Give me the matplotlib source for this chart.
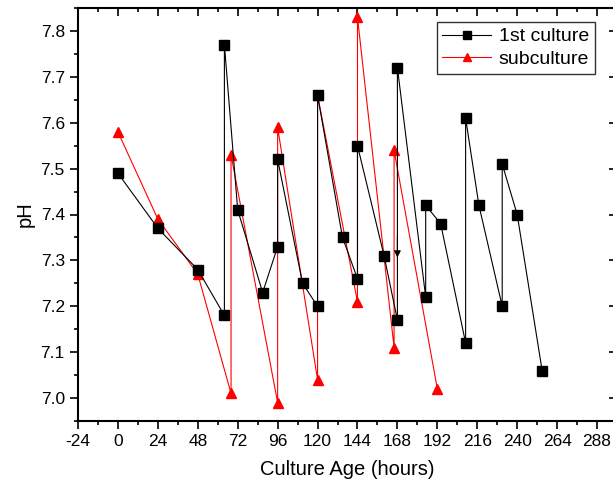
import matplotlib
matplotlib.use('agg')
import matplotlib.pyplot as plt
from matplotlib.ticker import MultipleLocator

plt.rcParams['font.family'] = ['Liberation Sans', 'DejaVu Sans']
plt.rcParams['axes.unicode_minus'] = False

# 1st culture (black squares)
first_hours = [0, 24, 48, 64, 64, 72, 87, 96, 96, 111, 120, 120, 135, 144, 144,
               160, 168, 168, 185, 185, 194, 209, 209, 217, 231, 231, 240, 255]
first_ph = [7.49, 7.37, 7.28, 7.18, 7.77, 7.41, 7.23, 7.33, 7.52, 7.25, 7.20, 7.66,
            7.35, 7.26, 7.55, 7.31, 7.17, 7.72, 7.22, 7.42, 7.38, 7.12, 7.61, 7.42,
            7.20, 7.51, 7.40, 7.06]

# subculture (red triangles)
sub_hours = [0, 24, 48, 68, 68, 96, 96, 120, 120, 144, 144, 166, 166, 192]
sub_ph = [7.58, 7.39, 7.27, 7.01, 7.53, 6.99, 7.59, 7.04, 7.66, 7.21, 7.83,
          7.11, 7.54, 7.02]

x_ticks = [-24, 0, 24, 48, 72, 96, 120, 144, 168, 192, 216, 240, 264, 288]
y_ticks = [7.0, 7.1, 7.2, 7.3, 7.4, 7.5, 7.6, 7.7, 7.8]

fig = plt.figure(figsize=(6.13, 4.88), dpi=100)
ax = fig.add_axes([78 / 613, 67 / 488, 539 / 613, 413 / 488])

ax.plot(first_hours, first_ph, color='black', lw=0.8, marker='s', ms=6.5,
        label='1st culture', zorder=3)
ax.plot(sub_hours, sub_ph, color='red', lw=0.8, marker='^', ms=7.5,
        label='subculture', zorder=2)

# small arrow head on the 168 h drop
ax.annotate('', xy=(168, 7.30), xytext=(168, 7.36),
            arrowprops=dict(arrowstyle='-|>', color='black', lw=0.8, mutation_scale=10))

ax.set_xlim(-24, 300)
ax.set_ylim(6.95, 7.85)
ax.set_xticks(x_ticks)
ax.set_yticks(y_ticks)
ax.xaxis.set_minor_locator(MultipleLocator(12))
ax.yaxis.set_minor_locator(MultipleLocator(0.05))
ax.set_yticklabels(['%.1f' % v for v in y_ticks])

ax.tick_params(axis='both', which='major', direction='out', length=6, width=1.2,
               labelsize=12.5, top=True, right=True)
ax.tick_params(axis='both', which='minor', direction='out', length=3, width=1.2,
               top=True, right=True)
# opposite axes: ticks point inward
for t in ax.xaxis.get_major_ticks() + ax.xaxis.get_minor_ticks():
    t.tick2line.set_marker(matplotlib.lines.TICKDOWN)
for t in ax.yaxis.get_major_ticks() + ax.yaxis.get_minor_ticks():
    t.tick2line.set_marker(matplotlib.lines.TICKLEFT)

for s in ax.spines.values():
    s.set_linewidth(1.5)

ax.set_xlabel('Culture Age (hours)', fontsize=14.5, labelpad=8)
ax.set_ylabel('pH', fontsize=14.5, labelpad=4)

leg = ax.legend(loc='upper right', bbox_to_anchor=((595 - 78) / 539, 1 - 14 / 413),
                fontsize=14, frameon=True, fancybox=False, edgecolor='black',
                handlelength=2.5, borderpad=0.3, labelspacing=0.25, handletextpad=0.4,
                borderaxespad=0, markerscale=0.8)
leg.get_frame().set_linewidth(1.0)

fig.savefig('out.png', dpi=100)
